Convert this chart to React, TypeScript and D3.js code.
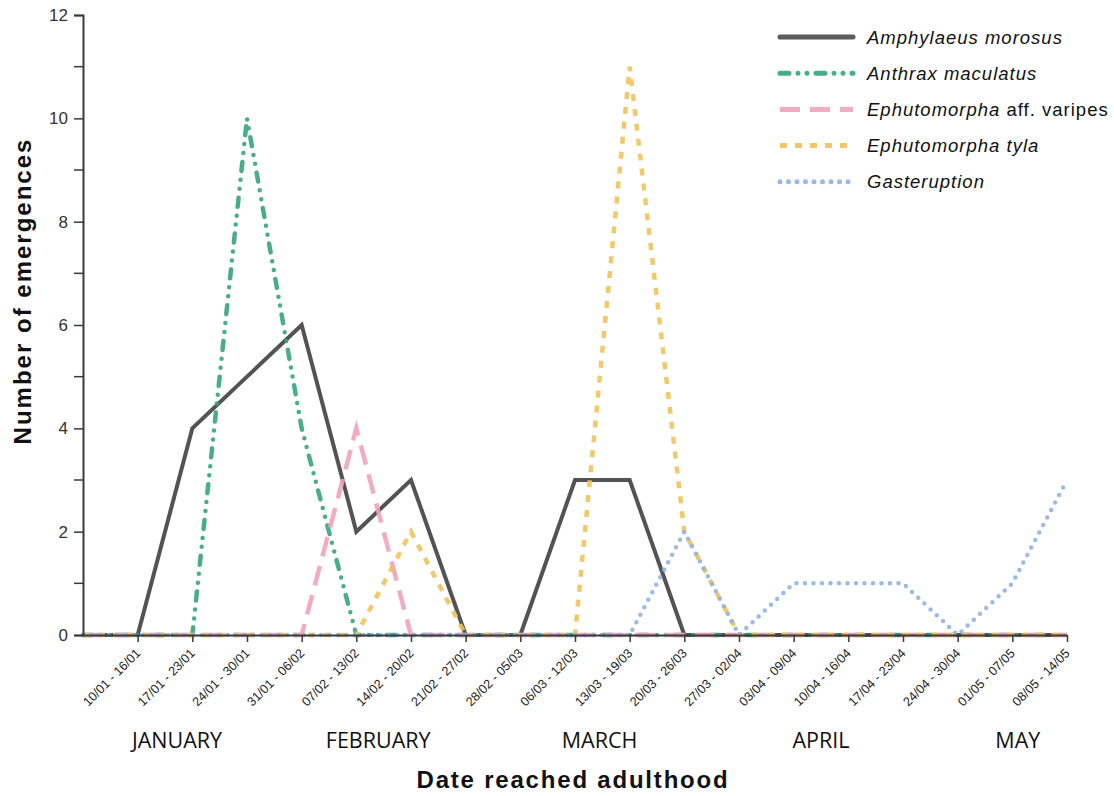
import { useRef, useEffect } from "react";
import * as d3 from "d3";

// week index 0 sits on the y axis (unlabelled), 1..18 are the labelled weeks
const weekLabels = [
  "",
  "10/01 - 16/01",
  "17/01 - 23/01",
  "24/01 - 30/01",
  "31/01 - 06/02",
  "07/02 - 13/02",
  "14/02 - 20/02",
  "21/02 - 27/02",
  "28/02 - 05/03",
  "06/03 - 12/03",
  "13/03 - 19/03",
  "20/03 - 26/03",
  "27/03 - 02/04",
  "03/04 - 09/04",
  "10/04 - 16/04",
  "17/04 - 23/04",
  "24/04 - 30/04",
  "01/05 - 07/05",
  "08/05 - 14/05",
];

const amphylaeus = [0, 0, 4, 5, 6, 2, 3, 0, 0, 3, 3, 0, 0, 0, 0, 0, 0, 0, 0];
const anthrax = [0, 0, 0, 10, 4, 0, 0, 0, 0, 0, 0, 0, 0, 0, 0, 0, 0, 0, 0];
const varipes = [0, 0, 0, 0, 0, 4, 0, 0, 0, 0, 0, 0, 0, 0, 0, 0, 0, 0, 0];
const tyla = [0, 0, 0, 0, 0, 0, 2, 0, 0, 0, 11, 2, 0, 0, 0, 0, 0, 0, 0];
const gasteruption = [0, 0, 0, 0, 0, 0, 0, 0, 0, 0, 0, 2, 0, 1, 1, 1, 0, 1, 3];

const months = ["JANUARY", "FEBRUARY", "MARCH", "APRIL", "MAY"];
const monthCentres = [1.72, 5.4, 9.45, 13.5, 17.1];

const yTicks = [0, 2, 4, 6, 8, 10, 12];
const yMinorTicks = [1, 3, 5, 7, 9, 11];

type Series = {
  genus: string;
  rest: string;
  values: number[];
  color: string;
  dash: string | null;
  cap: string;
};

const series: Series[] = [
  { genus: "Amphylaeus morosus", rest: "", values: amphylaeus, color: "#4a4a4a", dash: null, cap: "butt" },
  { genus: "Anthrax maculatus", rest: "", values: anthrax, color: "#36a47d", dash: "9 9 0 9 0 9", cap: "round" },
  { genus: "Ephutomorpha", rest: " aff. varipes", values: varipes, color: "#f0a3bd", dash: "20 10", cap: "butt" },
  { genus: "Ephutomorpha tyla", rest: "", values: tyla, color: "#f0c25a", dash: "7 8", cap: "butt" },
  { genus: "Gasteruption", rest: "", values: gasteruption, color: "#8fb3e6", dash: "0 8.5", cap: "round" },
];

export default function App() {
  const svgRef = useRef<SVGSVGElement>(null);

  useEffect(() => {
    if (!svgRef.current) return;
    const width = 1114;
    const height = 796;
    const margin = { top: 15, right: 47, bottom: 161, left: 83 };

    const svg = d3.select(svgRef.current);
    svg.selectAll("*").remove();

    const x = d3
      .scaleLinear()
      .domain([0, weekLabels.length - 1])
      .range([margin.left, width - margin.right]);
    const y = d3
      .scaleLinear()
      .domain([0, 12])
      .range([height - margin.bottom, margin.top]);

    const axisColor = "#3a3a3a";
    const font = "Liberation Sans, Arial, sans-serif";

    // Lines
    const line = d3
      .line<number>()
      .x((_, i) => x(i))
      .y((d) => y(d));

    series.forEach((s) => {
      const p = svg
        .append("path")
        .datum(s.values)
        .attr("fill", "none")
        .attr("stroke", s.color)
        .attr("stroke-width", s.dash ? 4.5 : 4)
        .attr("stroke-linecap", s.cap)
        .attr("stroke-linejoin", "miter")
        .attr("opacity", s.dash ? 0.9 : 0.95)
        .attr("d", line);
      if (s.dash) p.attr("stroke-dasharray", s.dash);
    });

    // Y axis
    const yAxis = svg
      .append("g")
      .attr("transform", `translate(${margin.left},0)`)
      .call(d3.axisLeft(y).tickValues(yTicks).tickSize(9).tickPadding(6));
    yAxis.select(".domain").attr("stroke", axisColor).attr("stroke-width", 2);
    yAxis.selectAll(".tick line").attr("stroke", axisColor).attr("stroke-width", 1.5);
    yAxis
      .selectAll(".tick text")
      .attr("fill", "#333")
      .attr("font-size", 17)
      .attr("font-family", font);
    yAxis
      .selectAll(".minor")
      .data(yMinorTicks)
      .enter()
      .append("line")
      .attr("x1", -9)
      .attr("x2", 0)
      .attr("y1", (d) => y(d))
      .attr("y2", (d) => y(d))
      .attr("stroke", axisColor)
      .attr("stroke-width", 1.5);

    // X axis
    const xAxis = svg
      .append("g")
      .attr("transform", `translate(0,${y(0)})`)
      .call(
        d3
          .axisBottom(x)
          .tickValues(d3.range(1, weekLabels.length))
          .tickFormat((d) => weekLabels[d as number])
          .tickSize(7)
          .tickSizeOuter(0)
      );
    xAxis.select(".domain").attr("stroke", axisColor).attr("stroke-width", 2);
    xAxis.selectAll(".tick line").attr("stroke", axisColor).attr("stroke-width", 1.5);
    xAxis
      .selectAll(".tick text")
      .attr("fill", "#222")
      .attr("font-size", 12.7)
      .attr("font-family", font)
      .attr("text-anchor", "end")
      .attr("x", 0)
      .attr("y", 0)
      .attr("dy", null)
      .attr("transform", "translate(3,19) rotate(-45)");

    // Month labels
    svg
      .append("g")
      .selectAll("text")
      .data(months)
      .enter()
      .append("text")
      .attr("x", (_, i) => x(monthCentres[i]))
      .attr("y", 748)
      .attr("text-anchor", "middle")
      .attr("font-family", "Open Sans, sans-serif")
      .attr("font-size", 21.5)
      .attr("fill", "#111")
      .text((d) => d);

    // Axis titles
    svg
      .append("text")
      .attr("x", 573)
      .attr("y", 788)
      .attr("text-anchor", "middle")
      .attr("font-family", font)
      .attr("font-weight", "bold")
      .attr("font-size", 24)
      .attr("letter-spacing", 1.8)
      .attr("fill", "#111")
      .text("Date reached adulthood");

    svg
      .append("text")
      .attr("transform", `translate(31,${291}) rotate(-90)`)
      .attr("text-anchor", "middle")
      .attr("font-family", font)
      .attr("font-weight", "bold")
      .attr("font-size", 24)
      .attr("letter-spacing", 2)
      .attr("fill", "#111")
      .text("Number of emergences");

    // Legend
    const legend = svg.append("g");
    series.forEach((s, i) => {
      const ly = 37 + i * 36.2;
      const l = legend
        .append("line")
        .attr("x1", 780)
        .attr("x2", 853)
        .attr("y1", ly)
        .attr("y2", ly)
        .attr("stroke", s.color)
        .attr("stroke-width", 5)
        .attr("stroke-linecap", s.dash ? s.cap : "round")
        .attr("opacity", 0.9);
      if (s.dash) l.attr("stroke-dasharray", s.dash);
      const t = legend
        .append("text")
        .attr("x", 867)
        .attr("y", ly + 6.5)
        .attr("font-family", font)
        .attr("font-size", 18.5)
        .attr("letter-spacing", 1)
        .attr("fill", "#111");
      t.append("tspan").attr("font-style", "italic").text(s.genus);
      if (s.rest) t.append("tspan").text(s.rest);
    });
  }, []);

  return (
    <svg
      ref={svgRef}
      width={1114}
      height={796}
      style={{ position: "absolute", left: 0, top: 0, background: "#fff" }}
    />
  );
}
